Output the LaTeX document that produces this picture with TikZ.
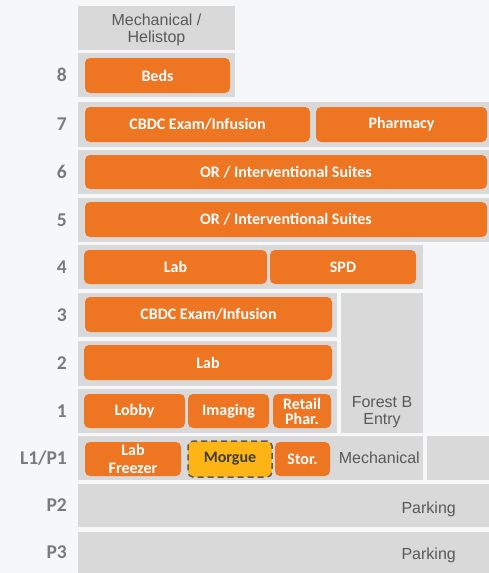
\documentclass[tikz,border=0pt]{standalone}
\usepackage{fontspec}
\usetikzlibrary{positioning, fit}
\newfontfamily\roomfont{Carlito}
\newfontfamily\notefont{Liberation Sans}
\definecolor{bgcol}{HTML}{F6F7F9}
\definecolor{floorgray}{HTML}{D9D9D9}
\definecolor{roomorange}{HTML}{EE7623}
\definecolor{morgueyellow}{HTML}{FDB515}
\definecolor{textgray}{HTML}{595959}
\definecolor{levelgray}{HTML}{7A7A7A}

\tikzset{
  floor/.style={fill=floorgray, inner sep=0pt, outer sep=0pt},
  room/.style={fill=roomorange, rounded corners=5pt, inner sep=0pt, outer sep=0pt},
  roomtext/.style={text=white, font=\roomfont\bfseries\fontsize{16}{18}\selectfont, align=center, inner sep=0pt},
  notetext/.style={text=textgray, font=\notefont\fontsize{16}{17}\selectfont, align=center, inner sep=0pt},
  leveltext/.style={text=levelgray, font=\roomfont\bfseries\fontsize{19.5}{20}\selectfont, inner sep=0pt},
}

\begin{document}
\begin{tikzpicture}[x=1pt, y=-1pt]
\fill[bgcol] (0,0) rectangle (489,573);
\useasboundingbox (0,0) rectangle (489,573);
%
\foreach \name/\xa/\ya/\xb/\yb in {
  top/78/6/235/50, f8/78/53/235/97, f7/78/102/489/147, f6/78/150/489/194,
  f5/78/198/489/242, f4/78/245/423/289, f3/78/293/337/337, forest/341/293/423/433,
  f2/78/341/337/386, f1/78/389/337/433, l1/78/436/423/480, l1r/427/436/489/480,
  p2/78/484/489/527, p3/78/532/489/573}
  \node (\name) [floor, fit={(\xa,\ya) (\xb,\yb)}] {};
%
\foreach \name/\xa/\ya/\xb/\yb/\txt in {
  beds/85/58/230/93/Beds,
  cbdcA/85/107/310/142/{CBDC Exam/Infusion},
  pharm/316/107/487/142/Pharmacy,
  orA/85/155/487/189/{OR / Interventional Suites},
  orB/85/202/487/237/{OR / Interventional Suites},
  labA/84/250/267/284/Lab,
  spd/270/250/416/284/SPD,
  cbdcB/85/297/332/332/{CBDC Exam/Infusion},
  labB/84/345/332/380/Lab,
  lobby/84/394/185/428/Lobby,
  imaging/188/394/269/428/Imaging,
  retail/273/394/331/428/{Retail\\[-3pt]Phar.},
  freezer/85/442/181/476/{Lab\\Freezer},
  stor/275/442/330/476/Stor.}
{
  \node (\name) [room, fit={(\xa,\ya) (\xb,\yb)}] {};
  \node (\name txt) [roomtext] at (\name) {\txt};
}
%
\node (morgue) [room, fill=morgueyellow, draw=textgray, line width=1.5pt,
  dash pattern=on 6pt off 4pt, fit={(188,441) (272,477)}] {};
\node (morguetxt) [roomtext, text=textgray!70!black] at (morgue) {Morgue};
%
\foreach \lab/\fl in {8/f8, 7/f7, 6/f6, 5/f5, 4/f4, 3/f3, 2/f2, 1/f1, {L1/P1}/l1, P2/p2, P3/p3}
  \node (lev\fl) [leveltext, left=11pt of \fl.west] {\lab};
%
\node (topnote) [notetext, yshift=-2pt] at (top) {Mechanical /\\Helistop};
\node (forestnote) [notetext] at (382,412) {Forest B\\Entry};
\node (mechnote) [notetext, left=3pt of l1.east] {Mechanical};
\node (parkA) [notetext, left=33pt of p2.east, yshift=-4pt] {Parking};
\node (parkB) [notetext, left=33pt of p3.east, yshift=-3pt] {Parking};
\end{tikzpicture}
\end{document}
